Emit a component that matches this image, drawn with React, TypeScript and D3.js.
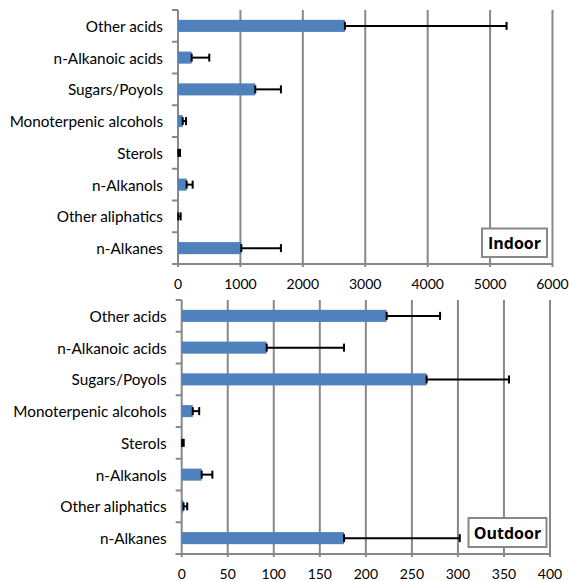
import React from "react";
import * as d3 from "d3";

const categories = [
  "Other acids",
  "n-Alkanoic acids",
  "Sugars/Poyols",
  "Monoterpenic alcohols",
  "Sterols",
  "n-Alkanols",
  "Other aliphatics",
  "n-Alkanes",
];

const indoorMean = [2674, 219, 1238, 75, 5, 139, 5, 1014];
const indoorErr = [2590, 282, 411, 53, 27, 96, 38, 635];
const indoorTicks = [0, 1000, 2000, 3000, 4000, 5000, 6000];

const outdoorMean = [222.6, 92.3, 266, 12, 0.5, 21.7, 2, 176.3];
const outdoorErr = [58, 84, 89.5, 7, 1.7, 11.6, 4, 125.7];
const outdoorTicks = [0, 50, 100, 150, 200, 250, 300, 350, 400];

const FONT = "Lato, 'Open Sans', sans-serif";
const LEGEND_FONT = "'Open Sans', sans-serif";
const BAR = "#4f81bd";
const GRID = "#888888";

type PanelProps = {
  mean: number[];
  err: number[];
  ticks: number[];
  x0: number;
  x1: number;
  top: number;
  bottom: number;
  label: string;
  box: [number, number, number, number];
};

function Panel({ mean, err, ticks, x0, x1, top, bottom, label, box }: PanelProps) {
  const x = d3
    .scaleLinear()
    .domain([ticks[0], ticks[ticks.length - 1]])
    .range([x0, x1]);
  const y = d3
    .scaleBand<string>()
    .domain(categories)
    .range([top, bottom])
    .paddingInner(0.62)
    .paddingOuter(0.31);
  const step = (bottom - top) / categories.length;
  const bw = y.bandwidth();
  const capH = 8;
  return (
    <g>
      {ticks.map((t) => (
        <line
          key={"g" + t}
          x1={x(t)}
          x2={x(t)}
          y1={top}
          y2={bottom + 3}
          stroke={GRID}
          strokeWidth={2}
        />
      ))}
      <line x1={x0 - 6} x2={x1} y1={bottom} y2={bottom} stroke={GRID} strokeWidth={2} />
      {d3.range(categories.length + 1).map((i) => (
        <line
          key={"yt" + i}
          x1={x0 - 6}
          x2={x0}
          y1={top + i * step}
          y2={top + i * step}
          stroke={GRID}
          strokeWidth={2}
        />
      ))}
      {ticks.map((t) => (
        <text
          key={"tl" + t}
          x={x(t)}
          y={bottom + 19}
          textAnchor="middle"
          dominantBaseline="central"
          fontFamily={FONT}
          fontSize={14}
          fill="#000"
        >
          {t}
        </text>
      ))}
      {categories.map((c) => (
        <text
          key={"cl" + c}
          x={x0 - 15}
          y={(y(c) as number) + bw / 2}
          textAnchor="end"
          dominantBaseline="central"
          fontFamily={FONT}
          fontSize={15.3}
          fill="#000"
        >
          {c}
        </text>
      ))}
      {categories.map((c, i) => (
        <rect
          key={"b" + c}
          x={x(0)}
          y={y(c) as number}
          width={Math.max(0, x(mean[i]) - x(0))}
          height={bw}
          fill={BAR}
        />
      ))}
      {categories.map((c, i) => {
        const cy = (y(c) as number) + bw / 2;
        const xa = x(mean[i]);
        const xb = x(mean[i] + err[i]);
        return (
          <g key={"e" + c} stroke="#000" strokeWidth={2}>
            <line x1={xa} x2={xb} y1={cy} y2={cy} />
            <line x1={xa} x2={xa} y1={cy - capH / 2} y2={cy + capH / 2} />
            <line x1={xb} x2={xb} y1={cy - capH / 2} y2={cy + capH / 2} />
          </g>
        );
      })}
      <rect
        x={box[0]}
        y={box[1]}
        width={box[2]}
        height={box[3]}
        fill="#fff"
        stroke={GRID}
        strokeWidth={2}
      />
      <text
        x={box[0] + box[2] / 2}
        y={box[1] + box[3] / 2}
        textAnchor="middle"
        dominantBaseline="central"
        fontFamily={LEGEND_FONT}
        fontWeight="bold"
        fontSize={16}
        fill="#000"
      >
        {label}
      </text>
    </g>
  );
}

export default function App() {
  return (
    <svg
      width={569}
      height={581}
      style={{ position: "absolute", left: 0, top: 0, background: "#fff" }}
    >
      <rect x={0} y={0} width={569} height={581} fill="#fff" />
      <Panel
        mean={indoorMean}
        err={indoorErr}
        ticks={indoorTicks}
        x0={178}
        x1={552.5}
        top={10}
        bottom={264}
        label="Indoor"
        box={[482, 228.5, 65, 28.5]}
      />
      <Panel
        mean={outdoorMean}
        err={outdoorErr}
        ticks={outdoorTicks}
        x0={181.7}
        x1={550}
        top={300}
        bottom={554}
        label="Outdoor"
        box={[468.5, 518, 78, 29]}
      />
    </svg>
  );
}
